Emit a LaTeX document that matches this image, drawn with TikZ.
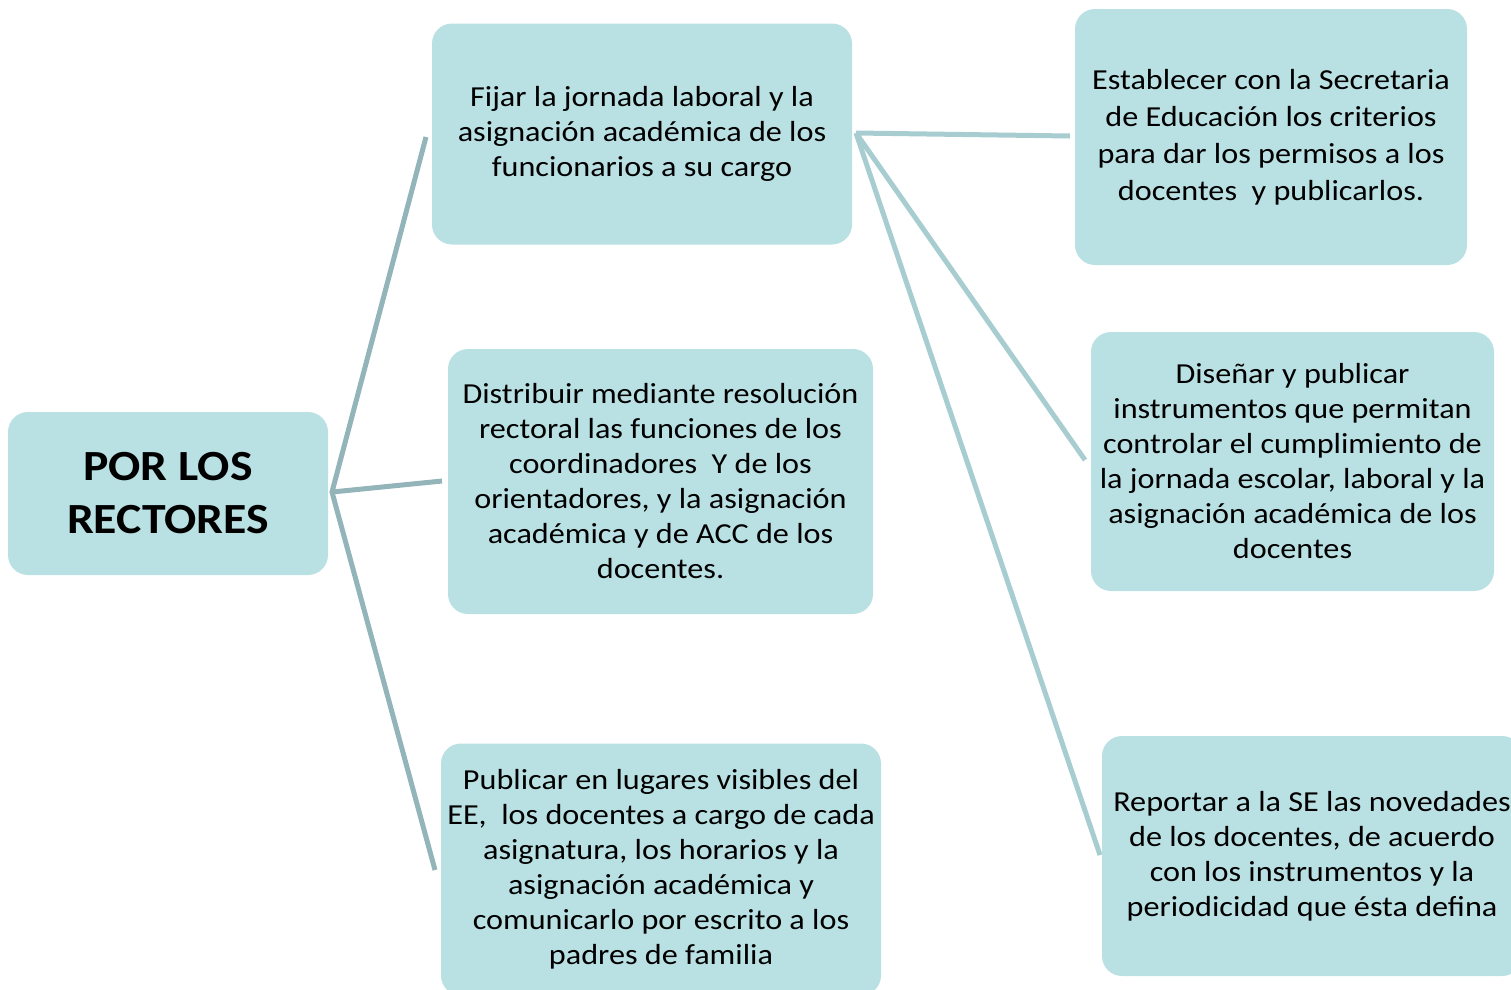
\documentclass[tikz,border=0pt]{standalone}
\usepackage{fontspec}
\setmainfont{Carlito}[FakeStretch=1.11]
\definecolor{boxfill}{RGB}{185,224,227}
\definecolor{linedark}{RGB}{147,181,185}
\definecolor{linelight}{RGB}{168,205,208}
\begin{document}
\begin{tikzpicture}[x=1pt,y=-1pt,
  card/.style={fill=boxfill, draw=none, rounded corners=20pt, align=center, inner sep=0pt, font=\fontsize{29}{35}\selectfont},
  conn/.style={line width=5pt},
]
\useasboundingbox (0,0) rectangle (1511,989);
\clip (0,0) rectangle (1511,989);
\node[card, minimum width=320pt, minimum height=163pt, font=\bfseries\fontsize{43}{53}\selectfont] (root) at (168,493.5) {POR LOS\\RECTORES};
\node[card, minimum width=420pt, minimum height=221pt] (b1) at (642,134) {Fijar la jornada laboral y la\\asignación académica de los\\funcionarios a su cargo};
\node[card, minimum width=425pt, minimum height=265pt] (b2) at (660.5,481.5) {Distribuir mediante resolución\\rectoral las funciones de los\\coordinadores\ \ Y de los\\orientadores, y la asignación\\académica y de ACC de los\\docentes.};
\node[card, minimum width=440pt, minimum height=252pt] (b3) at (661,869.5) {Publicar en lugares visibles del\\EE,\ \ los docentes a cargo de cada\\asignatura, los horarios y la\\asignación académica y\\comunicarlo por escrito a los\\padres de familia};
\node[card, minimum width=392pt, minimum height=256pt, font=\fontsize{29}{37}\selectfont] (r1) at (1271,137) {Establecer con la Secretaria\\de Educación los criterios\\para dar los permisos a los\\docentes\ \ y publicarlos.};
\node[card, minimum width=403pt, minimum height=259pt] (r2) at (1292.5,461.5) {Diseñar y publicar\\instrumentos que permitan\\controlar el cumplimiento de\\la jornada escolar, laboral y la\\asignación académica de los\\docentes};
\node[card, minimum width=420pt, minimum height=240pt] (r3) at (1312,856) {Reportar a la SE las novedades\\de los docentes, de acuerdo\\con los instrumentos y la\\periodicidad que ésta defina};
% connector endpoints
\coordinate (hub) at (332,492);
\coordinate (e1) at (426,137);
\coordinate (e2) at (442,481);
\coordinate (e3) at (435,870);
\coordinate (hub2) at (856,133);
\coordinate (f1) at (1070,136);
\coordinate (f2) at (1085,460);
\coordinate (f3) at (1100,855);
\draw[conn, linedark] (e1) -- (hub) -- (e3);
\draw[conn, linedark] (hub) -- (e2);
\draw[conn, linelight] (hub2) -- (f1);
\draw[conn, linelight] (hub2) -- (f2);
\draw[conn, linelight] (hub2) -- (f3);
\end{tikzpicture}
\end{document}
